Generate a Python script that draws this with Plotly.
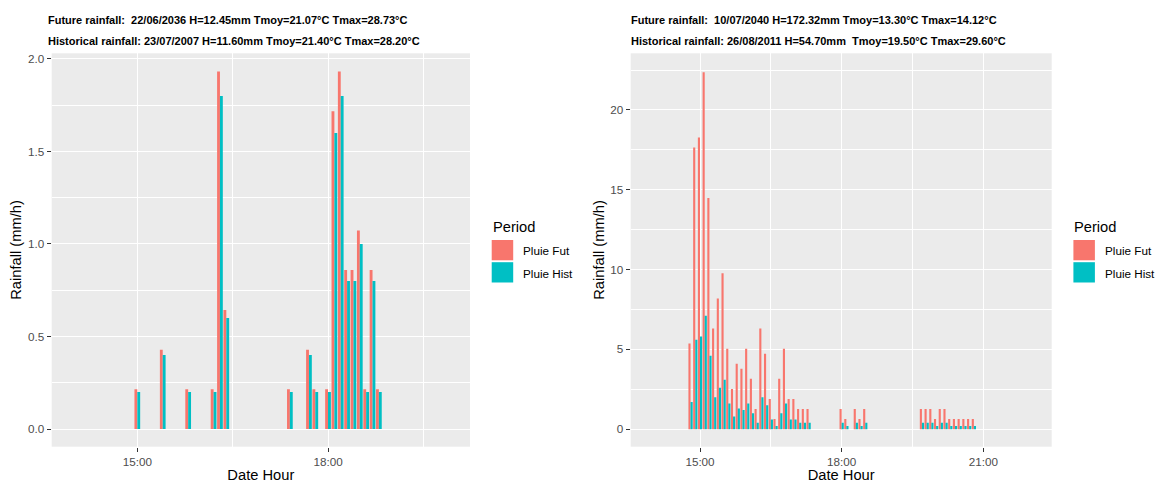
import plotly.graph_objects as go

DAY = "2000-01-01 "

# ---------------- Left chart data ----------------
left_times = ["15:00", "15:24", "15:48", "16:12", "16:18", "16:24", "17:24", "17:42", "17:48",
              "18:00", "18:06", "18:12", "18:18", "18:24", "18:30", "18:36", "18:42", "18:48"]
left_fut = [0.215, 0.429, 0.215, 0.215, 1.932, 0.644, 0.215, 0.429, 0.215,
            0.215, 1.717, 1.932, 0.859, 0.859, 1.073, 0.215, 0.859, 0.215]
left_hist = [0.2, 0.4, 0.2, 0.2, 1.8, 0.6, 0.2, 0.4, 0.2,
             0.2, 1.6, 1.8, 0.8, 0.8, 1.0, 0.2, 0.8, 0.2]

# ---------------- Right chart data ----------------
right_times = ["14:48", "14:54", "15:00", "15:06", "15:12", "15:18", "15:24", "15:30", "15:36",
               "15:42", "15:48", "15:54", "16:00", "16:06", "16:12", "16:18", "16:24", "16:30",
               "16:36", "16:42", "16:48", "16:54", "17:00", "17:06", "17:12", "17:18",
               "18:00", "18:06", "18:18", "18:24", "18:30",
               "19:42", "19:48", "19:54", "20:00", "20:06", "20:12", "20:18", "20:24",
               "20:30", "20:36", "20:42", "20:48"]
right_hist = [1.7, 5.6, 5.8, 7.1, 4.6, 2.0, 2.6, 3.1, 1.6,
              0.8, 1.3, 1.2, 1.6, 1.0, 0.4, 2.0, 1.5, 0.6,
              0.2, 1.0, 1.6, 0.6, 0.6, 0.4, 0.4, 0.4,
              0.4, 0.2, 0.4, 0.2, 0.4,
              0.4, 0.4, 0.4, 0.2, 0.4, 0.4, 0.2, 0.2,
              0.2, 0.2, 0.2, 0.2]
right_fut = [5.36, 17.64, 18.27, 22.37, 14.49, 6.30, 8.19, 9.77, 5.04,
             2.52, 4.10, 3.78, 5.04, 3.15, 1.26, 6.30, 4.73, 1.89,
             0.63, 3.15, 5.04, 1.89, 1.89, 1.26, 1.26, 1.26,
             1.26, 0.63, 1.26, 0.63, 1.26,
             1.26, 1.26, 1.26, 0.63, 1.26, 1.26, 0.63, 0.63,
             0.63, 0.63, 0.63, 0.63]

series_names = ["Pluie Fut", "Pluie Hist"]
series_colors = ["#F8766D", "#00BFC4"]
legend_title = "Period"

left_title = ["Future rainfall: \u00a022/06/2036 H=12.45mm Tmoy=21.07°C Tmax=28.73°C",
              "Historical rainfall: 23/07/2007 H=11.60mm Tmoy=21.40°C Tmax=28.20°C"]
right_title = ["Future rainfall: \u00a010/07/2040 H=172.32mm Tmoy=13.30°C Tmax=14.12°C",
               "Historical rainfall: 26/08/2011 H=54.70mm \u00a0Tmoy=19.50°C Tmax=29.60°C"]

FONT = "Liberation Sans, Arial, sans-serif"
W, H = 1155, 483

def px_x(v):
    return v / W

def px_y(v):
    return 1 - v / H

fig = go.Figure()

lx = [DAY + t for t in left_times]
rx = [DAY + t for t in right_times]

for name, col, vals in zip(series_names, series_colors, [left_fut, left_hist]):
    fig.add_trace(go.Bar(x=lx, y=vals, name=name, marker=dict(color=col, line=dict(width=0)),
                         xaxis="x", yaxis="y", showlegend=False, offsetgroup=name))
for name, col, vals in zip(series_names, series_colors, [right_fut, right_hist]):
    fig.add_trace(go.Bar(x=rx, y=vals, name=name, marker=dict(color=col, line=dict(width=0)),
                         xaxis="x2", yaxis="y2", showlegend=False, offsetgroup=name))

tickfont = dict(family=FONT, size=11.7, color="#4D4D4D")
titlefont = dict(family=FONT, size=14.7, color="black")

def xaxis_cfg(domain, rng, anchor):
    return dict(domain=domain, anchor=anchor, type="date", range=rng, tickformat="%H:%M",
                tick0=DAY + "15:00", dtick=3 * 3600 * 1000,
                showgrid=True, gridcolor="white", gridwidth=1.4,
                minor=dict(dtick=1.5 * 3600 * 1000, tick0=DAY + "15:00", showgrid=True,
                           gridcolor="white", gridwidth=0.7, ticks=""),
                ticks="outside", ticklen=4, tickwidth=1, tickcolor="#333333",
                tickfont=tickfont, showline=False, zeroline=False, automargin=False,
                title=dict(text="Date Hour", font=titlefont, standoff=3))

def yaxis_cfg(anchor, rng, dtick, fmt):
    return dict(domain=[px_y(446.7), px_y(53.3)], anchor=anchor, range=rng,
                dtick=dtick, tick0=0, tickformat=fmt,
                showgrid=True, gridcolor="white", gridwidth=1.4,
                minor=dict(dtick=dtick / 2, showgrid=True, gridcolor="white", gridwidth=0.7, ticks=""),
                ticks="outside", ticklen=4, tickwidth=1, tickcolor="#333333",
                tickfont=tickfont, showline=False, zeroline=False, automargin=False,
                title=dict(text="Rainfall (mm/h)", font=titlefont, standoff=2))

annotations = []
shapes = []
for txts, xpx in [(left_title, 45.7), (right_title, 629.3)]:
    for txt, ypx in zip(txts, [20, 40.7]):
        annotations.append(dict(text="<b>" + txt + "</b>", xref="paper", yref="paper",
                                x=px_x(xpx), y=px_y(ypx), xanchor="left", yanchor="middle",
                                showarrow=False, font=dict(family=FONT, size=11, color="black")))

# ggplot-style legends beside each panel
for lx0 in [491.7, 1073.4]:
    annotations.append(dict(text=legend_title, xref="paper", yref="paper",
                            x=px_x(lx0 - 1), y=px_y(226.7), xanchor="left", yanchor="middle",
                            showarrow=False, font=dict(family=FONT, size=14.7, color="black")))
    for i, (name, col) in enumerate(zip(series_names, series_colors)):
        top = 240 + i * 22.2
        shapes.append(dict(type="rect", xref="paper", yref="paper",
                           x0=px_x(lx0), x1=px_x(lx0 + 21.5), y0=px_y(top + 20.3), y1=px_y(top),
                           fillcolor=col, line=dict(width=0), layer="above"))
        annotations.append(dict(text=name, xref="paper", yref="paper",
                                x=px_x(lx0 + 29.5), y=px_y(top + 11), xanchor="left", yanchor="middle",
                                showarrow=False, font=dict(family=FONT, size=11.7, color="black")))

fig.update_layout(
    width=W, height=H, autosize=False, template="none",
    margin=dict(l=0, r=0, t=0, b=0),
    paper_bgcolor="white", plot_bgcolor="#EBEBEB",
    barmode="group", bargap=0.1, bargroupgap=0,
    font=dict(family=FONT),
    showlegend=False,
    xaxis=xaxis_cfg([px_x(51.7), px_x(470)], [DAY + "13:39:12", DAY + "20:14:00"], "y"),
    yaxis=yaxis_cfg("x", [-0.095, 2.03], 0.5, ".1f"),
    xaxis2=xaxis_cfg([px_x(630.7), px_x(1051.7)], [DAY + "13:31:57", DAY + "22:26:53"], "y2"),
    yaxis2=yaxis_cfg("x2", [-1.1, 23.55], 5, "d"),
    annotations=annotations,
    shapes=shapes,
)

fig.write_html("out.html", config={"displayModeBar": False},
               post_script="document.body.style.margin='0';document.body.style.overflow='hidden';")
